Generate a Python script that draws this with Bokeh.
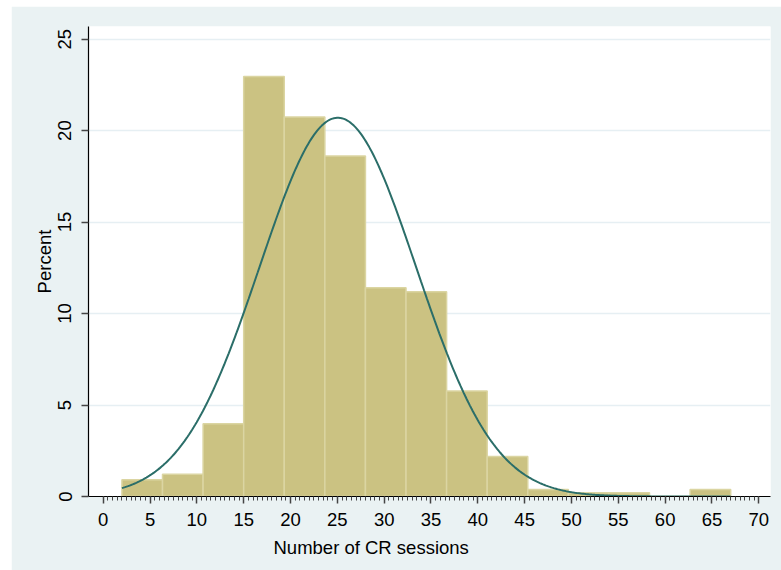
import numpy as np
from bokeh.plotting import figure
from bokeh.models import Range1d, FixedTicker, Title, ColumnDataSource, Spacer
from bokeh.layouts import column, row
from bokeh.embed import file_html
from bokeh.resources import INLINE

# ---- data ----
bin_start = 2.0
bin_end = 67.0
n_bins = 15
percent = [0.91, 1.22, 3.97, 22.96, 20.74, 18.61, 11.41, 11.19, 5.76, 2.19,
           0.38, 0.20, 0.20, 0.0, 0.38]
mean_sessions = 25.05
sd_sessions = 8.35
x_ticks = list(range(0, 71, 5))
y_ticks = [0, 5, 10, 15, 20, 25]

bin_width = (bin_end - bin_start) / n_bins
edges = bin_start + bin_width * np.arange(n_bins + 1)
src = ColumnDataSource(dict(left=edges[:-1], right=edges[1:], top=percent))

# normal density overlay, scaled to percent per bin
xs = np.linspace(bin_start, bin_end, 400)
ys = 100 * bin_width * np.exp(-0.5 * ((xs - mean_sessions) / sd_sessions) ** 2) / (sd_sessions * np.sqrt(2 * np.pi))

FONT = "Liberation Sans"
BG = "#EAF2F3"

p = figure(frame_width=682, frame_height=470, output_backend="svg", toolbar_location=None,
           x_range=Range1d(-1.57, 71.25), y_range=Range1d(0, 25.69),
           min_border_left=77, min_border_right=11, min_border_top=20, min_border_bottom=74)
p.border_fill_color = BG
p.background_fill_color = "white"
p.outline_line_color = None

p.quad(left="left", right="right", top="top", bottom=0, source=src,
       fill_color="#CBC282", line_color="#DBD5A2", line_width=1.5)
p.line(xs, ys, line_color="#2B6E69", line_width=2)

# grid
p.xgrid.visible = False
p.ygrid.ticker = FixedTicker(ticks=y_ticks)
p.ygrid.grid_line_color = "#E6EFF3"
p.ygrid.grid_line_width = 1.5

# x axis
xa = p.xaxis[0]
xa.ticker = FixedTicker(ticks=x_ticks, minor_ticks=list(np.arange(0, 70.01, 0.5)))
xa.axis_line_color = "black"
xa.axis_line_width = 1.2
xa.major_tick_line_color = "#444444"
xa.major_tick_line_width = 1.5
xa.major_tick_out = 7
xa.major_tick_in = 0
xa.minor_tick_line_color = "#444444"
xa.minor_tick_out = 4
xa.minor_tick_in = 0
xa.major_label_text_font = FONT
xa.major_label_text_font_size = "18.5px"
xa.major_label_text_color = "black"
xa.major_label_standoff = 9

# y axis
ya = p.yaxis[0]
ya.ticker = FixedTicker(ticks=y_ticks)
ya.axis_line_color = "black"
ya.axis_line_width = 1.2
ya.major_tick_line_color = "#444444"
ya.major_tick_line_width = 1.5
ya.major_tick_out = 7
ya.major_tick_in = 0
ya.minor_tick_line_color = None
ya.major_label_orientation = "vertical"
ya.major_label_text_font = FONT
ya.major_label_text_font_size = "18.5px"
ya.major_label_text_color = "black"
ya.major_label_standoff = 10
ya.axis_label = "Percent"
ya.axis_label_text_font = FONT
ya.axis_label_text_font_size = "18.5px"
ya.axis_label_text_font_style = "normal"
ya.axis_label_text_color = "black"
ya.axis_label_standoff = 1

xt = Title(text="Number of CR sessions", align="left", offset=185,
           text_font=FONT, text_font_size="18.5px", text_font_style="normal",
           text_color="black", standoff=12)
p.add_layout(xt, "below")

layout = column(Spacer(height=6), row(Spacer(width=11), p))

open("out.html", "w").write(file_html(layout, INLINE))
